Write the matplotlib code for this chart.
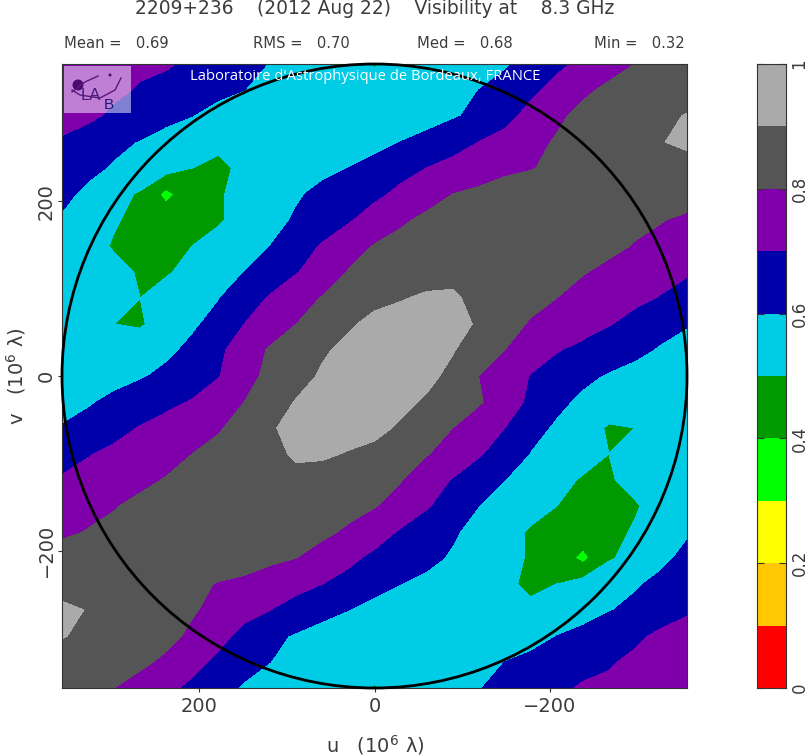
import numpy as np
import matplotlib
matplotlib.use("Agg")
import matplotlib.pyplot as plt
from matplotlib.colors import ListedColormap, BoundaryNorm
from matplotlib.patches import Circle, Rectangle, Ellipse

TITLE = "2209+236    (2012 Aug 22)    Visibility at    8.3 GHz"
STATS = [("Mean =   0.69", 64), ("RMS =   0.70", 253), ("Med =   0.68", 417), ("Min =   0.32", 594)]
LAB_TEXT = "Laboratoire d'Astrophysique de Bordeaux, FRANCE"
LEVELS = [0, .1, .2, .3, .4, .5, .6, .7, .8, .9, 1.0]
COLOURS = ["#FF0000", "#FFC800", "#FFFF00", "#00FF00", "#009900",
           "#00CCE6", "#0000AA", "#7F00AA", "#555555", "#AAAAAA"]
EXTENT = 357
CIRCLE_RADIUS = 357

# visibility (in %): rows from top to bottom, columns from left to right
visibility_pct = [
 [73,73,73,72,71,68,66,63,59.5,58,56,53,49.5,53,55,56,57,59,63,68,72,76,80,83,84],
 [76,75,72,69,67,65,62,60,58,56,55,54,53,53,54,56,60,63,68,73,78,82,85,86,86],
 [76,72,68,65,62,60,57,55,54,53,53,52,52,54,56,59,62,67,73,78,83,86,87,88,90.5],
 [68,65,62,59.5,57,55,51,52,54,55,56,57,58,60,63,66,70,73,77,81,85,86,87,89.8,91],
 [66,62,59,57,54,50,49,51,53,55,58,60,62,67,70,73,75,78,79.5,82,84,86,86,87,88],
 [62,58,53,49,37,47,49,53,56,59,62,65,68,72,76,80,82,84,85,85,85,85,85,85,85],
 [59,56,51,47,46,46,49,53,57,61,64,69,74,78.5,82,84,85,85,86,86,85,84,82,80.5,78],
 [57,54,49,46,46,50,53,57,60,65,71,76,80.5,83,85,87,88,88,87,85,83,82,79.5,77,74],
 [56,54,53,49,49,53,57,60,64,69.5,74,80.5,84,86,87,88,87,86,85,83,80.5,78,76,73,71],
 [55,51,53,50,54,57,59.5,65,71,76,80.5,85,88,89.5,91,91,88,86,83,80,77,74,72,69.5,66],
 [56,54,50,49,54,58.5,63,70,75,80,85,89,92,93,93,93,89,84,79,76,73,70.5,67,63,60.5],
 [58,56,55,55,58,62,68,75,81,85,89,92,94,94,93,90.5,86,80,75,70.5,68,65,62,59,57],
 [58.5,57,57,59,62,66,69.5,76,83,87,91,94,95,94,92,88,80,76,69.5,66,62,59,57,57,58.5],
 [57,59,62,65,68,70.5,75,80,86,90.5,93,94,94,92,89,85,81,75,68,62,58,55,55,56,58],
 [60.5,63,67,70.5,73,76,79,84,89,93,93,93,92,89,85,80,75,70,63,58.5,54,49,50,54,56],
 [66,69.5,72,74,77,80,83,86,88,91,91,89.5,88,85,80.5,76,71,65,59.5,57,54,50,53,51,55],
 [71,73,76,78,80.5,83,85,86,87,88,87,86,84,80.5,74,69.5,64,60,57,53,49,49,53,54,56],
 [74,77,79.5,82,83,85,87,88,88,87,85,83,80.5,76,71,65,60,57,53,50,46,46,49,54,57],
 [78,80.5,82,84,85,86,86,85,85,84,82,78.5,74,69,64,61,57,53,49,46,46,47,51,56,59],
 [85,85,85,85,85,85,85,84,82,80,76,72,68,65,62,59,56,53,49,47,37,49,53,58,62],
 [88,87,86,86,84,82,79.5,78,75,73,70,67,62,60,58,55,53,51,49,50,54,57,59,62,66],
 [91,89.8,87,86,85,81,77,73,70,66,63,60,58,57,56,55,54,52,51,55,57,59.5,62,65,68],
 [90.5,88,87,86,83,78,73,67,62,59,56,54,52,52,53,53,54,55,57,60,62,65,68,72,76],
 [86,86,85,82,78,73,68,63,60,56,54,53,53,54,55,56,58,60,62,65,67,69,72,75,76],
 [84,83,80,76,72,68,63,59,57,56,55,53,49.5,53,56,58,59.5,63,66,68,71,72,73,73,73],
]

Z = np.array(visibility_pct) / 100.0
u = np.linspace(EXTENT, -EXTENT, Z.shape[1])
v = np.linspace(EXTENT, -EXTENT, Z.shape[0])

W, H = 810, 756
TEXT = "#3c3c3c"
TICK = "#333333"
plt.rcParams['font.family'] = ['DejaVu Sans']
fig = plt.figure(figsize=(W / 100, H / 100), dpi=100)

def px_axes(x0, y0, x1, y1):
    return fig.add_axes([x0 / W, 1 - y1 / H, (x1 - x0) / W, (y1 - y0) / H])

cmap = ListedColormap(COLOURS)
norm = BoundaryNorm(LEVELS, cmap.N)

ax = px_axes(62, 64, 687, 688)
ax.contourf(u, v, Z, levels=LEVELS, cmap=cmap, norm=norm)
ax.set_xlim(EXTENT, -EXTENT)
ax.set_ylim(-EXTENT, EXTENT)
ax.add_patch(Circle((0, 0), CIRCLE_RADIUS, fill=False, ec="black", lw=2.0, clip_on=False, zorder=5))

MAJOR = [200, 0, -200]
MINOR = [300, 100, -100, -300]
ax.set_xticks(MAJOR)
ax.set_yticks(MAJOR)
ax.set_xticklabels(["200", "0", "\u2212200"])
ax.set_yticklabels(["200", "0", "\u2212200"], rotation=90, va="center")
ax.tick_params(which="major", direction="out", length=3, width=0.8, color=TICK,
               labelsize=14, labelcolor=TEXT, pad=1.5)
ax.tick_params(axis="x", which="major", pad=3.5)

# inward ticks on all four sides
for side in ("top", "bottom"):
    sec = ax.secondary_xaxis(side)
    sec.set_xticks(MAJOR)
    sec.set_xticks(MINOR, minor=True)
    sec.tick_params(which="major", direction="in", length=7, width=0.8, color=TICK, labeltop=False, labelbottom=False)
    sec.tick_params(which="minor", direction="in", length=4.5, width=0.8, color=TICK)
    sec.xaxis.set_minor_formatter(plt.NullFormatter())
    sec.spines[side].set_visible(False)
for side in ("left", "right"):
    sec = ax.secondary_yaxis(side)
    sec.set_yticks(MAJOR)
    sec.set_yticks(MINOR, minor=True)
    sec.tick_params(which="major", direction="in", length=7, width=0.8, color=TICK, labelleft=False, labelright=False)
    sec.tick_params(which="minor", direction="in", length=4.5, width=0.8, color=TICK)
    sec.yaxis.set_minor_formatter(plt.NullFormatter())
    sec.spines[side].set_visible(False)
for s in ax.spines.values():
    s.set_linewidth(0.8)
    s.set_color(TICK)

# logo panel
axis_tr = ax.transAxes
def lx(p): return (p - 62) / 625
def ly(p): return 1 - (p - 64) / 624
ax.add_patch(Rectangle((lx(64), ly(113)), 67 / 625, 47 / 624, transform=axis_tr, fc="white", alpha=0.5, ec="none", zorder=6))
ax.add_patch(Ellipse((lx(78), ly(85)), 11 / 625, 11 / 624, transform=axis_tr, fc="#4B0A6E", ec="none", zorder=7))
ax.add_patch(Ellipse((lx(110), ly(75)), 3 / 625, 3 / 624, transform=axis_tr, fc="#4B0A6E", ec="none", zorder=7))
ax.plot([lx(p) for p in (72, 85, 98)], [ly(p) for p in (92, 82, 76)], transform=axis_tr, color="#5A1A80", lw=1, zorder=7)
ax.plot([lx(p) for p in (72, 80, 100, 115, 121)], [ly(p) for p in (90, 95, 98, 90, 78)], transform=axis_tr, color="#5A1A80", lw=1, zorder=7)
ax.text(lx(91), ly(95), "LA", transform=axis_tr, fontsize=12, color="#4B1A7A", ha="center", va="center", zorder=7, family="Liberation Sans")
ax.text(lx(109), ly(105), "B", transform=axis_tr, fontsize=11, color="#1A1A80", ha="center", va="center", zorder=7, family="Liberation Sans")

fig.text(365.5 / W, 1 - 77 / H, LAB_TEXT, color="white", fontsize=10.6, ha="center", va="center",
         family="Open Sans", zorder=10)

fig.text(375 / W, 1 - 9 / H, TITLE, fontsize=13.4, color=TEXT, ha="center", va="center")
for txt, x in STATS:
    fig.text(x / W, 1 - 44 / H, txt, fontsize=10.6, color=TEXT, ha="left", va="center")

fig.text(375 / W, 1 - 745 / H, "u   (10$^{6}$ \u03bb)", fontsize=14, color=TEXT, ha="center", va="center")
fig.text(16 / W, 1 - 376 / H, "v   (10$^{6}$ \u03bb)", fontsize=14, color=TEXT, ha="center", va="center", rotation=90)

# colour bar
cax = px_axes(757, 64, 786, 688)
cax.pcolormesh([0, 1], LEVELS, np.array(LEVELS[:-1]).reshape(-1, 1) + 0.05, cmap=cmap, norm=norm)
cax.set_xticks([])
cax.yaxis.tick_right()
cax.set_yticks([0, .2, .4, .6, .8, 1])
cax.set_yticklabels(["0", "0.2", "0.4", "0.6", "0.8", "1"], rotation=90, va="center")
cax.tick_params(axis="y", direction="in", length=5, width=0.8, left=True, right=True,
                labelsize=12, labelcolor=TEXT, color=TICK, pad=3.2)
for s in cax.spines.values():
    s.set_linewidth(0.8)
    s.set_color(TICK)

fig.savefig("out.png", dpi=100)
